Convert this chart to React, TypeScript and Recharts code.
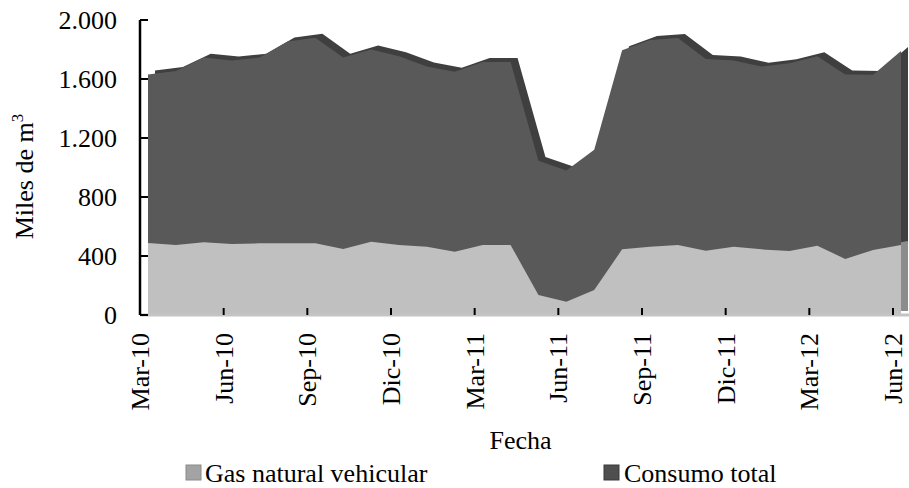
import React from 'react';
import { AreaChart, Area, XAxis, YAxis, Legend, Label } from 'recharts';

// monthly categories, Mar-10 .. Jun-12
const months = [
    'Mar-10', 'Abr-10', 'May-10', 'Jun-10', 'Jul-10', 'Ago-10', 'Sep-10', 'Oct-10', 'Nov-10', 'Dic-10',
    'Ene-11', 'Feb-11', 'Mar-11', 'Abr-11', 'May-11', 'Jun-11', 'Jul-11', 'Ago-11', 'Sep-11', 'Oct-11',
    'Nov-11', 'Dic-11', 'Ene-12', 'Feb-12', 'Mar-12', 'Abr-12', 'May-12', 'Jun-12',
];

// miles de m3
const consumoTotal = [
    1630, 1655, 1745, 1725, 1745, 1855, 1880, 1745, 1800, 1755,
    1685, 1650, 1715, 1715, 1045, 980, 1120, 1795, 1865, 1878,
    1736, 1725, 1684, 1707, 1755, 1630, 1628, 1790,
];
const gasNatural = [
    488, 475, 493, 481, 486, 486, 486, 447, 497, 475,
    463, 429, 475, 475, 136, 90, 170, 445, 463, 475,
    436, 463, 445, 434, 470, 380, 441, 475,
];

const yTicks = [0, 400, 800, 1200, 1600, 2000];

const data = months.map((m, i) => ({ month: m, total: consumoTotal[i], gnv: gasNatural[i] }));

const FONT = '"Liberation Serif", "Times New Roman", serif';
const fmt = (v: number) => String(v).replace(/\B(?=(\d{3})+(?!\d))/g, '.');

const XTick = ({ x, y, payload }: any) => (
    <g>
        <line x1={x} x2={x} y1={y - 18} y2={y - 25} stroke="#000" strokeWidth={2} />
        <text x={x} y={y} transform={`rotate(-90, ${x}, ${y})`} textAnchor="end" dy={9}
            fontFamily={FONT} fontSize={26} fill="#000">{payload.value}</text>
    </g>
);

const YTick = ({ x, y, payload }: any) => (
    <g>
        <line x1={x + 23} x2={x + 31} y1={y} y2={y} stroke="#000" strokeWidth={2} />
        <text x={x} y={y} textAnchor="end" dy={9} fontFamily={FONT} fontSize={26} fill="#000">{fmt(payload.value)}</text>
    </g>
);

const LegendBox = () => (
    <svg width={909} height={33} style={{ display: 'block' }}>
        <rect x={186} y={10} width={15} height={15} fill="#a3a3a3" stroke="#8a8a8a" />
        <text x={205} y={27} fontFamily={FONT} fontSize={26} fill="#000">Gas natural vehicular</text>
        <rect x={604} y={10} width={15} height={15} fill="#4f4f4f" stroke="#3a3a3a" />
        <text x={624} y={27} fontFamily={FONT} fontSize={26} fill="#000">Consumo total</text>
    </svg>
);

export default function App() {
    return (
        <div style={{ position: 'absolute', left: 0, top: 0, background: '#fff' }}>
            <AreaChart width={909} height={488} data={data} margin={{ top: 20, right: 0, left: 0, bottom: 0 }}>
                {/* visible category axis */}
                <XAxis xAxisId="cat" dataKey="month" interval={2} height={140} padding={{ left: 0, right: 16 }}
                    tick={<XTick />} tickLine={false} tickSize={0} tickMargin={18}
                    axisLine={{ stroke: '#c4c4c4', strokeWidth: 3 }}>
                    <Label content={({ viewBox }: any) => (
                        <text x={viewBox.x + viewBox.width / 2 - 4} y={viewBox.y + 134} textAnchor="middle"
                            fontFamily={FONT} fontSize={26} fill="#000">Fecha</text>
                    )} />
                </XAxis>
                {/* front face and back (depth) planes of the 3d ribbon */}
                <XAxis xAxisId="front" dataKey="month" hide height={0} padding={{ left: 8, right: 8 }} />
                <XAxis xAxisId="back" dataKey="month" hide height={0} padding={{ left: 15, right: 1 }} />
                <YAxis yAxisId="front" width={140} domain={[0, 2000]} ticks={yTicks} interval={0}
                    tick={<YTick />} tickLine={false} tickSize={0} tickMargin={23}
                    axisLine={{ stroke: '#000', strokeWidth: 2.5 }}>
                    <Label content={({ viewBox }: any) => {
                        const cx = viewBox.x + 24;
                        const cy = viewBox.y + viewBox.height / 2 + 9;
                        return (
                            <text x={cx} y={cy} transform={`rotate(-90, ${cx}, ${cy})`} textAnchor="middle" dy={9}
                                fontFamily={FONT} fontSize={26} fill="#000">Miles de m<tspan dy={-10} fontSize={17}>3</tspan></text>
                        );
                    }} />
                </YAxis>
                <YAxis yAxisId="back" hide width={0} orientation="right" domain={[-27, 1973]} />

                <Area xAxisId="back" yAxisId="back" type="linear" dataKey="total" stroke="none" fill="#3f3f3f" fillOpacity={1} isAnimationActive={false} />
                <Area xAxisId="back" yAxisId="back" type="linear" dataKey="gnv" stroke="none" fill="#8c8c8c" fillOpacity={1} isAnimationActive={false} />
                <Area xAxisId="front" yAxisId="front" type="linear" dataKey="total" stroke="none" fill="#595959" fillOpacity={1} isAnimationActive={false} />
                <Area xAxisId="front" yAxisId="front" type="linear" dataKey="gnv" stroke="none" fill="#c0c0c0" fillOpacity={1} isAnimationActive={false} />

                <Legend verticalAlign="bottom" content={<LegendBox />} />
            </AreaChart>
        </div>
    );
}
